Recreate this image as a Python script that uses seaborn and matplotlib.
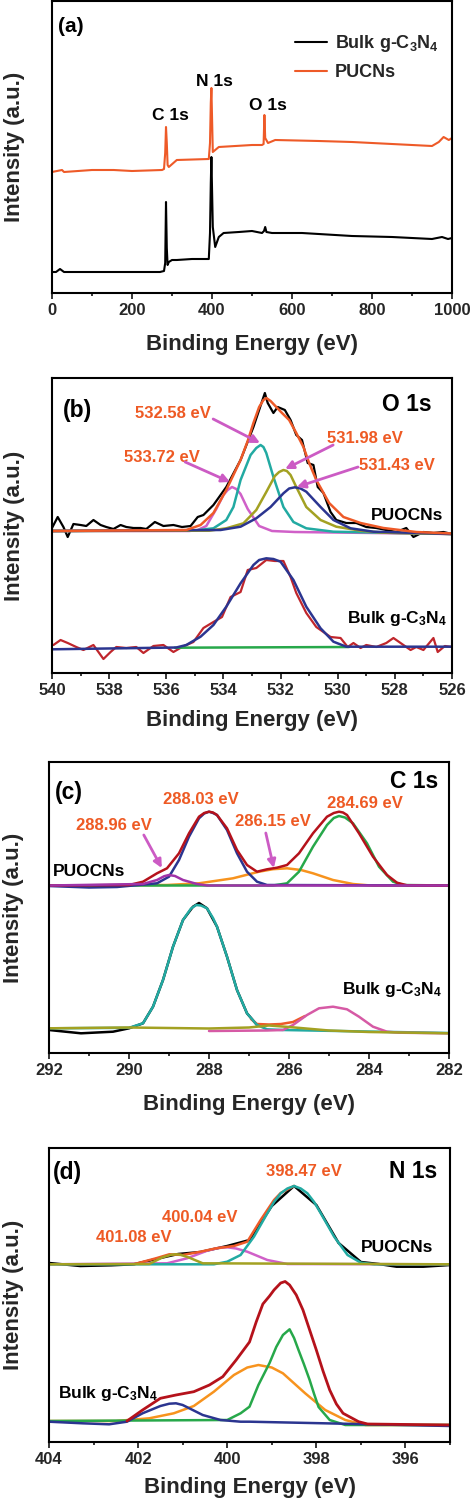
import matplotlib
matplotlib.use("Agg")
import matplotlib.pyplot as plt
from matplotlib.ticker import MultipleLocator
import seaborn as sns

# ---------------- (a) survey ----------------
a_bulk_e = [0, 10, 20, 30, 100, 200, 270, 280, 283, 285, 287, 289, 292, 300, 312, 350, 392, 395, 397, 398.5, 402, 408, 417, 429, 467, 500,
            525, 530, 533, 536, 550, 625, 750, 850, 950, 975, 990, 1000]
a_bulk_i = [21, 21, 24, 21, 21, 21, 21, 22, 30, 91, 45, 28, 31, 33, 33, 34, 34, 60, 110, 136, 66, 46, 56, 60, 61, 62,
            60, 62, 66, 61, 60, 60, 57, 56, 54, 56, 54, 55]
a_pucn_e = [0, 25, 30, 100, 154, 200, 275, 280, 283, 285, 287, 289, 292, 312, 392, 395, 397, 398.5, 402, 417, 500, 525, 529,
            531, 533, 540, 558, 667, 750, 850, 950, 967, 979, 992, 1000]
a_pucn_i = [121, 123, 121, 123, 123, 122, 123, 124, 140, 166, 150, 128, 126, 133, 134, 150, 190, 205, 141, 146, 148, 148, 149,
            178, 155, 150, 153, 152, 151, 149, 147, 151, 156, 153, 155]

# ---------------- (b) O 1s ----------------
b_raw_e = [540.0, 539.8, 539.6, 539.45, 539.25, 539.0, 538.8, 538.55, 538.3, 538.1, 537.85, 537.6, 537.4, 537.15, 536.9, 536.7,
           536.4, 536.1, 535.75, 535.45, 535.15, 534.9, 534.7, 534.35, 533.9, 533.4, 532.95, 532.55, 532.45, 532.25, 532.1,
           531.85, 531.65, 531.45, 531.25, 531.05, 530.85, 530.7, 530.5, 530.25, 530.05, 529.7, 529.35, 529.0, 528.65, 528.3,
           527.95, 527.6, 527.35, 527.0, 526.65, 526.3, 526.0]
b_raw_i = [145, 156, 146, 136, 149, 148, 147, 153, 148, 146, 144, 148, 146, 145, 145, 144, 151, 147, 148, 146, 147, 156, 158,
           168, 186, 213, 246, 280, 270, 260, 266, 263, 253, 238, 233, 210, 208, 186, 180, 161, 153, 150, 150, 146, 145, 143,
           141, 145, 136, 141, 140, 141, 139]
b_fit_e = [540, 535.3, 534.8, 534.35, 533.9, 533.4, 533.15, 532.95, 532.75, 532.6, 532.5, 532.35, 532.15, 531.95, 531.7, 531.45,
           531.2, 531.0, 530.75, 530.3, 529.8, 529.2, 528.4, 527.25, 526]
b_fit_i = [142, 143, 148, 160, 183, 213, 232, 250, 266, 273, 275, 272, 266, 260, 253, 240, 226, 210, 193, 170, 156, 150, 145,
           141, 139.5]
b_p1_e = [540, 535.2, 534.9, 534.6, 534.25, 534.0, 533.85, 533.7, 533.55, 533.4, 533.15, 532.75, 532.3, 531.5, 526]
b_p1_i = [142, 142, 143, 147, 164, 178, 183, 186, 184, 179, 164, 147, 142, 141, 139]
b_p2_e = [540, 535.0, 534.35, 533.9, 533.65, 533.4, 533.05, 532.85, 532.7, 532.6, 532.5, 532.25, 531.9, 531.55, 531.1, 530.15, 526]
b_p2_i = [142, 142.5, 144.7, 153, 166, 193, 218, 225, 228, 226, 220, 196, 166, 151, 144.7, 141.3, 139]
b_p3_e = [540, 534.5, 533.9, 533.3, 532.85, 532.5, 532.2, 532.05, 531.9, 531.78, 531.65, 531.45, 531.1, 530.6, 530.05, 529.2,
          528.4, 526]
b_p3_i = [142, 142.3, 144.7, 149.7, 163, 181, 197, 201, 203, 202, 198, 186, 166, 153, 146.3, 142.3, 140.3, 139]
b_p4_e = [540, 534.1, 533.4, 532.85, 532.35, 531.9, 531.7, 531.5, 531.3, 531.1, 530.6, 530.15, 529.55, 528.75, 526]
b_p4_i = [142, 143, 146.3, 154.7, 166, 179.7, 184.5, 185.7, 184.5, 181.3, 166, 153, 144.7, 141.3, 139]
b_bulk_raw_e = [539.95, 539.7, 539.45, 539.15, 538.9, 538.55, 538.2, 537.95, 537.75, 537.4, 537.05, 536.8, 536.45, 536.1,
                535.75, 535.45, 535.05, 534.7, 534.35, 534.05, 533.75, 533.4, 533.15, 532.85, 532.5, 532.2, 531.9, 531.65,
                531.45, 531.1, 530.75, 530.25, 529.9, 529.65, 529.45, 529.2, 529.0, 528.65, 528.3, 528.05, 527.7, 527.45,
                527.25, 527.0, 526.65, 526.5, 526.25, 526.0]
b_bulk_raw_i = [28, 33, 30, 26, 23, 28, 14, 21, 26, 25, 26, 20, 27, 28, 21, 26, 31, 45, 51, 56, 76, 81, 103, 105, 113, 112,
                112, 96, 80, 60, 46, 36, 35, 26, 30, 25, 28, 26, 30, 35, 28, 23, 26, 23, 35, 21, 27, 26]
b_bulk_fit_e = [540, 535.65, 535.3, 534.8, 534.35, 533.9, 533.4, 532.95, 532.75, 532.5, 532.25, 532.0, 531.55, 531.1, 530.6,
                530.15, 529.7, 526]
b_bulk_fit_i = [23.7, 25.5, 28, 36.3, 48, 66.3, 89.7, 108, 113, 114.7, 114, 111.3, 93, 66.3, 44.7, 31.3, 26.3, 26.3]
b_bulk_bg_e = [535.7, 529.6]
b_bulk_bg_i = [25.3, 26]

# ---------------- (c) C 1s ----------------
c_env_e = [292, 290.0, 289.65, 289.3, 289.05, 288.75, 288.5, 288.25, 288.12, 288.0, 287.9, 287.8, 287.55, 287.3, 287.05, 286.8,
           286.55, 286.3, 286.05, 285.75, 285.4, 285.05, 284.88, 284.75, 284.65, 284.55, 284.25, 283.9, 283.55, 283.3, 283.05, 282]
c_env_i = [167.5, 168, 171.3, 179.7, 184.7, 199.7, 219.7, 236.3, 240, 241.3, 240.5, 238, 224.7, 203, 188, 181.3, 183.7, 185.3,
           188, 199.7, 219.7, 236.3, 240, 241.3, 240.5, 238, 219.7, 196.3, 178, 170.3, 167.7, 167.3]
c_p1_e = [292, 291.0, 290.3, 289.9, 289.3, 289.0, 288.75, 288.5, 288.25, 288.12, 288.0, 287.9, 287.8, 287.55, 287.3, 287.05,
          286.8, 286.55, 282]
c_p1_i = [167, 165.5, 166, 167.5, 169.7, 176.3, 193, 216.3, 234.7, 239.5, 241.3, 240, 238, 223, 199.7, 181.3, 171.3, 168, 167.5]
c_p2_e = [292, 286.4, 286.05, 285.75, 285.4, 285.05, 284.88, 284.75, 284.6, 284.4, 284.05, 283.75, 283.4, 283.15, 282]
c_p2_i = [167.5, 167.5, 169.7, 181.3, 206.3, 228, 235, 237, 235.5, 229.7, 209.7, 186.3, 171.3, 168, 167.5]
c_p3_e = [292, 289.05, 288.25, 287.4, 286.75, 286.4, 286.05, 285.7, 285.4, 284.9, 284.4, 283.9, 282]
c_p3_i = [167.5, 168, 169.7, 174.7, 181.3, 183.8, 184.7, 183, 179.7, 173, 169, 167.3, 167.3]
c_p4_e = [292, 289.65, 289.3, 289.12, 289.0, 288.85, 288.65, 288.3, 288.05, 282]
c_p4_i = [167.5, 169, 173, 176.8, 178, 177, 173, 169, 167.5, 167.5]
c_bulk_raw_e = [292, 291.2, 290.4, 290.0, 289.65, 289.4, 289.15, 288.9, 288.65, 288.4, 288.25, 288.05, 287.8, 287.55, 287.3,
                287.05, 286.8]
c_bulk_raw_i = [23, 19.7, 21.3, 24.7, 29.7, 46.3, 73, 106.3, 133, 146.3, 150, 144.7, 126.3, 96.3, 63, 39.7, 28]
c_bulk_p1_e = [292, 290.0, 289.65, 289.4, 289.15, 288.9, 288.65, 288.45, 288.32, 288.2, 288.05, 287.9, 287.8, 287.55, 287.3,
               287.05, 286.8, 286.55, 286.15, 282]
c_bulk_p1_i = [24.7, 25.2, 29.7, 46.3, 73, 106.3, 133, 144.5, 148, 147.5, 144.7, 135, 126.3, 96.3, 63, 39.7, 28, 23.7, 23, 20]
c_bulk_p2_e = [288.0, 286.55, 286.15, 285.9, 285.55, 285.25, 284.9, 284.55, 284.25, 283.9, 283.55, 283.25, 282]
c_bulk_p2_i = [22, 22.5, 23, 28, 38, 44.7, 46.3, 43.7, 36.3, 26.3, 21.3, 20.3, 19.7]
c_bulk_env_e = [286.95, 286.8, 286.5, 286.2, 285.9, 285.6]
c_bulk_env_i = [34, 29, 28.5, 29, 31, 37]
c_bulk_bg_e = [292, 290.0, 288.0, 287.0, 286.5, 286.0, 285.0, 284.0, 282]
c_bulk_bg_i = [24.7, 25.5, 24.5, 25.5, 27.5, 26, 22.5, 21, 19.7]

# ---------------- (d) N 1s ----------------
d_raw_e = [404, 403.3, 402.6, 402.1, 401.5, 401.1, 400.6, 400.0, 399.5, 399.0, 398.5, 398.0, 397.5, 397.0, 396.6, 396.2, 395.6, 395.0]
d_raw_i = [179, 176, 176.7, 177.7, 184, 188, 190, 196, 202, 236, 256, 237, 199, 180, 178, 175.3, 175.3, 177]
d_p1_e = [404, 400.3, 400.0, 399.7, 399.4, 399.25, 399.1, 398.95, 398.8, 398.65, 398.5, 398.35, 398.2, 398.05, 397.9, 397.75,
          397.6, 397.3, 397.0, 396.7, 395]
d_p1_i = [177.7, 177.7, 180.3, 187, 205.3, 217, 228.7, 240, 248.7, 253.5, 256, 253.5, 248.7, 240, 228.7, 217, 205.3, 187, 179.3,
          177.7, 177.7]
d_env_e = [402.1, 401.6, 401.3, 401.0, 400.6, 400.25, 399.85, 399.55, 399.25, 398.95, 398.8, 398.5]
d_env_i = [177.7, 183.7, 187.7, 187, 190.3, 193.7, 196, 200.3, 222, 242, 249, 256]
d_p2_e = [404, 401.35, 400.9, 400.45, 400.2, 400.0, 399.8, 399.55, 399.1, 398.65, 395]
d_p2_i = [177.7, 178.7, 183.7, 191.3, 194, 194.7, 193.5, 190.3, 182, 178, 177.7]
d_p3_e = [404, 401.75, 401.45, 401.25, 401.15, 401.05, 400.85, 400.55, 395]
d_p3_i = [177.7, 178, 184.7, 187.3, 187.7, 187.3, 184.3, 178.7, 177.7]
d_bulk_p1_e = [404, 403.25, 402.65, 402.25, 401.9, 401.5, 401.3, 401.15, 401.0, 400.85, 400.55, 400.15, 399.7, 399.5, 395]
d_bulk_p1_i = [20.3, 18.7, 17.7, 20.3, 28.7, 36, 38.3, 38.7, 37, 33.7, 27, 22, 20.3, 20.3, 16]
d_bulk_p2_e = [404, 402.5, 401.75, 401.2, 400.75, 400.3, 399.85, 399.55, 399.3, 399.0, 398.75, 398.25, 397.8, 397.35, 396.9, 395]
d_bulk_p2_i = [21, 21, 23.7, 28.7, 36, 50.3, 67, 74.5, 77, 74.5, 68.7, 48.7, 32, 22, 17, 17]
d_bulk_p3_e = [404, 400.0, 399.7, 399.5, 399.3, 399.05, 398.9, 398.75, 398.6, 398.5, 398.4, 398.28, 398.15, 398.05, 397.95,
               397.7, 397.35, 395]
d_bulk_p3_i = [21, 22, 28.7, 35.3, 57, 79, 95, 107, 112.7, 104, 92, 78, 62, 48, 35, 22, 17, 17]
d_bulk_env_e = [402.25, 401.9, 401.5, 401.15, 400.75, 400.4, 400.1, 399.8, 399.65, 399.5, 399.35, 399.2, 399.05, 398.95,
                398.8, 398.7, 398.6, 398.45, 398.3, 398.15, 398.0, 397.85, 397.7, 397.55, 397.4, 397.05, 396.85, 395]
d_bulk_env_i = [21, 32, 43.7, 47, 50.3, 57, 65.3, 82, 91, 100, 120, 138, 146, 152, 159, 160.5, 157, 147, 132, 112, 92, 71, 52,
                38, 28.7, 20.3, 18, 17]

BLACK = "black"
ORANGE_RED = "#EE5A28"
LABEL_C = "#EE5A24"
ARROW_C = "#CC5BC4"
TEAL = "#22AAA2"
OLIVE = "#A3A122"
NAVY = "#2B3590"
MAGENTA = "#D060C8"
DARKRED = "#B5121B"
GREEN = "#27A84A"
ORANGE = "#F7931E"
PURPLE = "#A033A8"
PINK = "#D65AA5"
DRED = "#C0262C"

sns.set_theme(style="ticks")
plt.rcParams["font.family"] = ["Liberation Sans", "DejaVu Sans"]
plt.rcParams["font.weight"] = "bold"
plt.rcParams["mathtext.fontset"] = "custom"
plt.rcParams["mathtext.rm"] = "Liberation Sans:bold"
plt.rcParams["mathtext.default"] = "rm"

BULK = "Bulk g-C$_3$N$_4$"


def curve(ax, e, i, color, lw=1.8, label=None):
    sns.lineplot(x=e, y=i, ax=ax, color=color, linewidth=lw, sort=False, estimator=None, label=label,
                 solid_joinstyle="round", solid_capstyle="round")


def frame(ax, xlim, major, minor, ylim, ylab_x, xlab_y):
    ax.set_xlim(*xlim)
    ax.set_ylim(0, ylim)
    ax.xaxis.set_major_locator(MultipleLocator(major))
    ax.xaxis.set_minor_locator(MultipleLocator(minor))
    ax.set_yticks([])
    ax.tick_params(axis="x", which="both", direction="out", width=1.3, labelsize=12, pad=3)
    ax.tick_params(axis="x", which="major", length=4)
    ax.tick_params(axis="x", which="minor", length=2.5)
    for lab in ax.get_xticklabels():
        lab.set_fontweight("bold")
    for s in ax.spines.values():
        s.set_visible(True)
        s.set_linewidth(1.5)
        s.set_color("black")
    ax.set_xlabel("Binding Energy (eV)", fontsize=16, fontweight="bold")
    ax.set_ylabel("Intensity (a.u.)", fontsize=16, fontweight="bold")
    ax.xaxis.set_label_coords(0.5, xlab_y)
    ax.yaxis.set_label_coords(ylab_x, 0.5)


def arrow(ax, start, end):
    ax.annotate("", xy=end, xytext=start,
                arrowprops=dict(arrowstyle="-|>", color=ARROW_C, lw=2, mutation_scale=12, shrinkA=0, shrinkB=0))


def txt(ax, x, y, s, size=12.5, color="black", ha="left", va="center", axes_coords=False):
    kw = dict(transform=ax.transAxes) if axes_coords else {}
    ax.text(x, y, s, fontsize=size, color=color, fontweight="bold", ha=ha, va=va, **kw)


W, H = 474, 1504
fig = plt.figure(figsize=(W / 100, H / 100), dpi=100)


def add_axes(left, top, right, bottom):
    return fig.add_axes([left / W, 1 - bottom / H, (right - left) / W, (bottom - top) / H])


# (a)
ax = add_axes(52, 1, 452, 293)
curve(ax, a_bulk_e, a_bulk_i, BLACK, 1.5, BULK)
curve(ax, a_pucn_e, a_pucn_i, ORANGE_RED, 1.5, "PUCNs")
frame(ax, (0, 1000), 200, 100, 292, -0.0675, -0.14)
ax.legend(loc="upper left", bbox_to_anchor=(0.6075, 0.89), frameon=False, borderpad=0, borderaxespad=0,
          handlelength=1.75, handletextpad=0.45, labelspacing=0.55, prop={"size": 13, "weight": "bold"})
txt(ax, 0.015, 0.911, "(a)", 15, axes_coords=True)
txt(ax, 295, 178, "C 1s", ha="center")
txt(ax, 405, 212, "N 1s", ha="center")
txt(ax, 540, 187, "O 1s", ha="center")

# (b)
ax = add_axes(52, 378, 452, 673)
curve(ax, b_raw_e, b_raw_i, BLACK, 1.6)
curve(ax, b_p1_e, b_p1_i, MAGENTA)
curve(ax, b_p2_e, b_p2_i, TEAL)
curve(ax, b_p3_e, b_p3_i, OLIVE)
curve(ax, b_p4_e, b_p4_i, NAVY)
curve(ax, b_fit_e, b_fit_i, ORANGE_RED)
curve(ax, b_bulk_raw_e, b_bulk_raw_i, DRED, 1.6)
curve(ax, b_bulk_bg_e, b_bulk_bg_i, GREEN)
curve(ax, b_bulk_fit_e, b_bulk_fit_i, NAVY)
frame(ax, (540, 526), 2, 1, 295, -0.0675, -0.125)
txt(ax, 539.62, 263, "(b)", 16.5)
txt(ax, 526.7, 269, "O 1s", 16.5, ha="right")
txt(ax, 537.1, 260, "532.58 eV", 12, LABEL_C)
txt(ax, 537.48, 216, "533.72 eV", 12, LABEL_C)
txt(ax, 530.37, 235, "531.98 eV", 12, LABEL_C)
txt(ax, 529.25, 208, "531.43 eV", 12, LABEL_C)
txt(ax, 526.31, 158, "PUOCNs", ha="right")
txt(ax, 526.17, 50, BULK, ha="right", va="baseline")
arrow(ax, (534.36, 254), (532.72, 230))
arrow(ax, (535.34, 211), (533.77, 191))
arrow(ax, (530.16, 228), (531.84, 204))
arrow(ax, (529.29, 206), (531.43, 186))

# (c)
ax = add_axes(49, 762, 449, 1053)
curve(ax, c_p3_e, c_p3_i, ORANGE)
curve(ax, c_p2_e, c_p2_i, GREEN)
curve(ax, c_p1_e, c_p1_i, NAVY)
curve(ax, c_env_e, c_env_i, DARKRED)
curve(ax, c_p4_e, c_p4_i, PURPLE)
curve(ax, c_bulk_raw_e, c_bulk_raw_i, BLACK)
curve(ax, c_bulk_env_e, c_bulk_env_i, ORANGE_RED)
curve(ax, c_bulk_p1_e, c_bulk_p1_i, TEAL)
curve(ax, c_bulk_p2_e, c_bulk_p2_i, PINK)
curve(ax, c_bulk_bg_e, c_bulk_bg_i, OLIVE)
frame(ax, (292, 282), 2, 1, 291, -0.0625, -0.141)
txt(ax, 291.85, 260, "(c)", 16.5)
txt(ax, 282.28, 271, "C 1s", 16.5, ha="right")
txt(ax, 289.15, 253, "288.03 eV", 12, LABEL_C)
txt(ax, 285.05, 250, "284.69 eV", 12, LABEL_C)
txt(ax, 291.33, 227, "288.96 eV", 12, LABEL_C)
txt(ax, 287.35, 232, "286.15 eV", 12, LABEL_C)
txt(ax, 291.9, 182, "PUOCNs")
txt(ax, 284.68, 59, BULK, va="baseline")
arrow(ax, (289.63, 218), (289.18, 185))
arrow(ax, (286.58, 220), (286.38, 185))

# (d)
ax = add_axes(49, 1148, 450, 1442)
curve(ax, d_raw_e, d_raw_i, BLACK)
curve(ax, d_p2_e, d_p2_i, MAGENTA)
curve(ax, d_env_e, d_env_i, ORANGE_RED)
curve(ax, d_p1_e, d_p1_i, TEAL)
curve(ax, d_p3_e, d_p3_i, OLIVE)
curve(ax, d_bulk_p2_e, d_bulk_p2_i, ORANGE)
curve(ax, d_bulk_p3_e, d_bulk_p3_i, GREEN)
curve(ax, d_bulk_p1_e, d_bulk_p1_i, NAVY)
curve(ax, d_bulk_env_e, d_bulk_env_i, DARKRED, 2.0)
frame(ax, (404, 395), 2, 1, 294, -0.0625, -0.119)
txt(ax, 403.91, 269, "(d)", 16.5)
txt(ax, 395.29, 270, "N 1s", 16.5, ha="right")
txt(ax, 399.13, 270, "398.47 eV", 12, LABEL_C)
txt(ax, 401.46, 225, "400.04 eV", 12, LABEL_C)
txt(ax, 402.95, 204, "401.08 eV", 12, LABEL_C)
txt(ax, 395.38, 195, "PUOCNs", ha="right")
txt(ax, 403.8, 44, BULK, va="baseline")

fig.savefig("out.png", dpi=100)
